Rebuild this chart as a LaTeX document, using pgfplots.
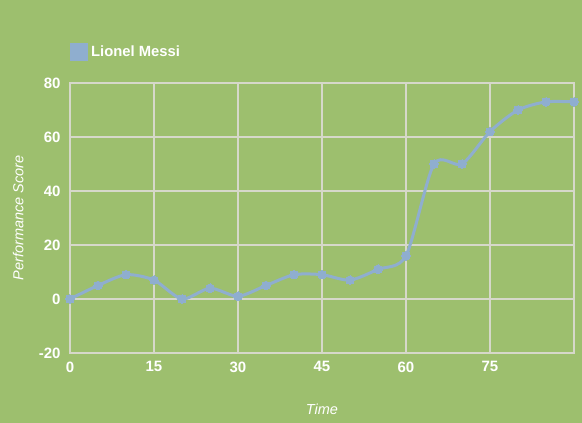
\documentclass[border=0pt]{standalone}
\usepackage{pgfplots}
\pgfplotsset{compat=1.18}
\usepackage{fontspec}
\setmainfont{Liberation Sans}

\definecolor{bg}{RGB}{157,191,110}
\definecolor{linec}{RGB}{143,174,207}
\definecolor{gridc}{RGB}{214,216,202}

\begin{document}
\begin{tikzpicture}[x=1pt,y=1pt]
  \path[fill=bg, use as bounding box] (0,0) rectangle (582,423);
  \begin{axis}[
      at={(70pt,70pt)}, anchor=south west,
      scale only axis, width=504pt, height=270pt,
      xmin=0, xmax=90, ymin=-20, ymax=80,
      xtick={0,15,30,45,60,75,90},
      xticklabels={0,15,30,45,60,75,},
      ytick={-20,0,20,40,60,80},
      yticklabels={-20,0,20,40,60,80},
      grid=major,
      grid style={gridc, line width=1.1pt},
      axis line style={gridc, line width=1.1pt},
      major tick length=0pt,
      tick label style={white, font=\bfseries\fontsize{15}{17}\selectfont},
      xticklabel style={yshift=-5pt},
      yticklabel style={xshift=-6pt},
      xlabel={Time},
      ylabel={Performance Score},
      label style={white, font=\itshape\fontsize{14.5}{17}\selectfont},
      xlabel style={at={(axis description cs:0.5,-0.207)}, anchor=center},
      ylabel style={at={(axis description cs:-0.103,0.5)}, anchor=center},
      legend style={at={(axis description cs:0,1.115)}, anchor=west,
        draw=none, fill=none, inner sep=0pt,
        font=\bfseries\fontsize{14.8}{17}\selectfont, text=white},
      legend cell align=left,
      legend image code/.code={\fill[linec] (0pt,-7.5pt) rectangle (15pt,7.5pt);},
    ]
    \addplot[color=linec, line width=3pt, smooth, tension=0.45,
      mark=*, mark size=4.3pt, mark options={fill=linec, draw=linec, line width=0pt}]
      coordinates {
        (0,0)(5,5)(10,9)(15,7)(20,0)(25,4)(30,1)(35,5)(40,9)(45,9)
        (50,7)(55,11)(60,16)(65,50)(70,50)(75,62)(80,70)(85,73)(90,73)
      };
    \addlegendentry{\hspace{1pt}Lionel Messi}
  \end{axis}
\end{tikzpicture}
\end{document}
